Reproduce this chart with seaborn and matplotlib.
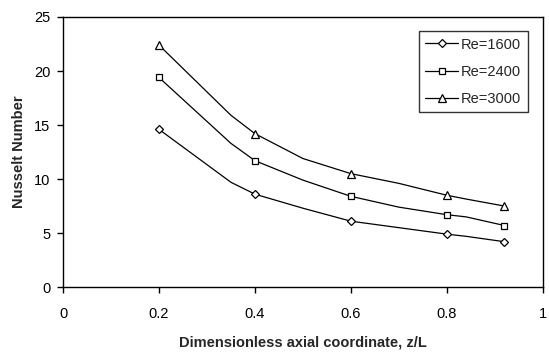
import matplotlib
matplotlib.use("Agg")
import matplotlib.pyplot as plt
from matplotlib.lines import Line2D
import seaborn as sns
import pandas as pd

# Measured stations along the tube (markers)
z_marker = [0.2, 0.4, 0.6, 0.8, 0.92]
nu_1600 = [14.6, 8.6, 6.1, 4.9, 4.2]
nu_2400 = [19.4, 11.7, 8.4, 6.7, 5.7]
nu_3000 = [22.4, 14.2, 10.5, 8.5, 7.5]

# Continuous profiles drawn as the connecting curves
z_curve = [0.2, 0.35, 0.4, 0.5, 0.6, 0.7, 0.8, 0.84, 0.92]
curve_1600 = [14.6, 9.7, 8.6, 7.3, 6.1, 5.5, 4.9, 4.7, 4.2]
curve_2400 = [19.4, 13.3, 11.7, 9.9, 8.4, 7.4, 6.7, 6.5, 5.7]
curve_3000 = [22.4, 15.9, 14.2, 11.9, 10.5, 9.6, 8.5, 8.15, 7.5]

series_labels = ["Re=1600", "Re=2400", "Re=3000"]
series_markers = ["D", "s", "^"]
marker_sizes = [4.0, 4.6, 5.8]

sns.set_theme(style="white")
plt.rcParams["font.family"] = ["Liberation Sans", "DejaVu Sans"]

fig = plt.figure(figsize=(5.49, 3.54), dpi=100)
ax = fig.add_axes([0.1148, 0.189, 0.874, 0.763])

curves = [curve_1600, curve_2400, curve_3000]
markers_y = [nu_1600, nu_2400, nu_3000]

for lab, cy, my, mk, ms in zip(series_labels, curves, markers_y, series_markers, marker_sizes):
    dfc = pd.DataFrame({"z": z_curve, "Nu": cy})
    sns.lineplot(data=dfc, x="z", y="Nu", ax=ax, color="black", linewidth=0.9,
                 sort=False, legend=False)
    dfm = pd.DataFrame({"z": z_marker, "Nu": my})
    sns.lineplot(data=dfm, x="z", y="Nu", ax=ax, color="black", linestyle="",
                 marker=mk, markersize=ms, markerfacecolor="white",
                 markeredgecolor="black", markeredgewidth=0.9, legend=False, zorder=3)

ax.set_xlim(0, 1)
ax.set_ylim(0, 25)
ax.set_xticks([0, 0.2, 0.4, 0.6, 0.8, 1])
ax.set_xticklabels(["0", "0.2", "0.4", "0.6", "0.8", "1"])
ax.set_yticks([0, 5, 10, 15, 20, 25])
ax.set_yticklabels(["0", "5", "10", "15", "20", "25"])

for side in ["left", "bottom", "top", "right"]:
    ax.spines[side].set_visible(True)
    ax.spines[side].set_color("black")
    ax.spines[side].set_linewidth(1.0)

ax.tick_params(axis="both", which="major", direction="out", length=4, width=1,
               color="black", labelsize=10.5, labelcolor="black",
               left=True, bottom=True)
ax.tick_params(axis="x", pad=10)
ax.tick_params(axis="y", pad=5)

ax.set_xlabel("Dimensionless axial coordinate, z/L", fontsize=10.5,
              fontweight="bold", labelpad=11)
ax.set_ylabel("Nusselt Number", fontsize=10.5, fontweight="bold", labelpad=6)

handles = [Line2D([0], [0], color="black", linewidth=0.9, marker=mk,
                  markersize=ms, markerfacecolor="white", markeredgecolor="black",
                  markeredgewidth=0.9)
           for mk, ms in zip(series_markers, marker_sizes)]
leg = ax.legend(handles, series_labels, loc="upper right",
                bbox_to_anchor=(0.969, 0.948), borderaxespad=0.0,
                fontsize=10.5, frameon=True, fancybox=False, edgecolor="black",
                handlelength=2.25, handletextpad=0.2, borderpad=0.45,
                labelspacing=0.9)
leg.get_frame().set_linewidth(1.0)

fig.savefig("out.png", dpi=100, facecolor="white")
